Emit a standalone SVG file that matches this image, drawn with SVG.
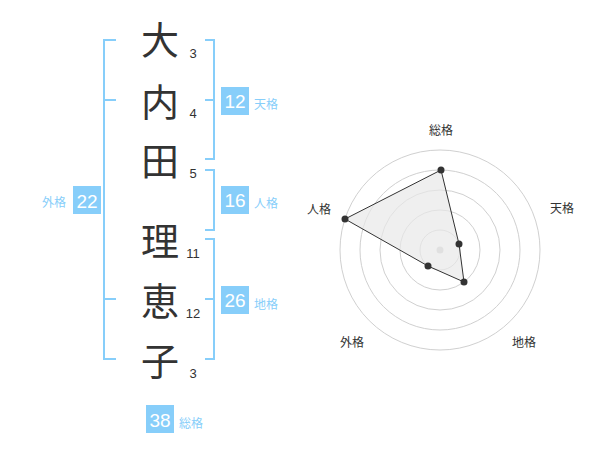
<svg xmlns="http://www.w3.org/2000/svg" width="600" height="470" viewBox="0 0 600 470">
<style>
.kanji{font-family:"Noto Sans CJK JP","Noto Sans CJK SC",sans-serif;font-size:38px;fill:#333;text-anchor:middle}
.stroke{font-family:"Liberation Sans",Arial,sans-serif;font-size:13px;fill:#333;text-anchor:middle}
.box{fill:#87cefa}
.boxnum{font-family:"Liberation Sans",Arial,sans-serif;font-size:19px;fill:#fff;text-anchor:middle}
.lbl{font-family:"Noto Sans CJK JP","Noto Sans CJK SC",sans-serif;font-size:12px;fill:#87cefa}
.br{fill:none;stroke:#87cefa;stroke-width:2}
.grid{fill:none;stroke:#d0d0d0;stroke-width:1}
.axlbl{font-family:"Noto Sans CJK JP","Noto Sans CJK SC",sans-serif;font-size:12px;fill:#333;text-anchor:middle}
.pt{fill:#333}
</style>
<rect width="600" height="470" fill="#fff"/>
<g id="connectors">
<path class="br" d="M116,40 H104 V359 H116 M104,100 H116 M104,299 H116"/>
<path class="br" d="M205,40 H214 V159 H205 M205,100 H214"/>
<path class="br" d="M205,170 H214 V230 H205"/>
<path class="br" d="M205,239 H214 V359 H205 M205,299 H214"/>
</g>
<g id="char-1"><text class="kanji" x="160" y="54">大</text><text class="stroke" x="193" y="58">3</text></g>
<g id="char-2"><text class="kanji" x="160" y="116">内</text><text class="stroke" x="193" y="118">4</text></g>
<g id="char-3"><text class="kanji" x="160" y="175">田</text><text class="stroke" x="193" y="178">5</text></g>
<g id="char-4"><text class="kanji" x="160" y="255">理</text><text class="stroke" x="193" y="258">11</text></g>
<g id="char-5"><text class="kanji" x="160" y="315">恵</text><text class="stroke" x="193" y="318">12</text></g>
<g id="char-6"><text class="kanji" x="160" y="375">子</text><text class="stroke" x="193" y="378">3</text></g>
<g id="tenkaku"><rect class="box" x="221" y="87" width="28" height="28"/><text class="boxnum" x="235" y="108">12</text><text class="lbl" x="254" y="109">天格</text></g>
<g id="jinkaku"><rect class="box" x="221" y="186" width="28" height="28"/><text class="boxnum" x="235" y="207">16</text><text class="lbl" x="254" y="208">人格</text></g>
<g id="chikaku"><rect class="box" x="221" y="286" width="28" height="28"/><text class="boxnum" x="235" y="307">26</text><text class="lbl" x="254" y="309">地格</text></g>
<g id="gaikaku"><rect class="box" x="73" y="186" width="28" height="28"/><text class="boxnum" x="87" y="208">22</text><text class="lbl" x="66" y="207" text-anchor="end">外格</text></g>
<g id="soukaku"><rect class="box" x="146" y="405" width="28" height="28"/><text class="boxnum" x="160" y="427">38</text><text class="lbl" x="179" y="428">総格</text></g>
<g id="radar">
<circle class="grid" cx="440" cy="250" r="20"/>
<circle class="grid" cx="440" cy="250" r="40"/>
<circle class="grid" cx="440" cy="250" r="60"/>
<circle class="grid" cx="440" cy="250" r="80"/>
<circle class="grid" cx="440" cy="250" r="100"/>
<circle cx="440" cy="250" r="3.5" fill="#cccccc"/>
<polygon points="441,170 459,244 464,282 428,266 345,219" fill="#e8e8e8" fill-opacity="0.7" stroke="#333" stroke-width="1"/>
<circle class="pt" cx="441" cy="170" r="3.5"/>
<circle class="pt" cx="459" cy="244" r="3.5"/>
<circle class="pt" cx="464" cy="282" r="3.5"/>
<circle class="pt" cx="428" cy="266" r="3.5"/>
<circle class="pt" cx="345" cy="219" r="3.5"/>
<text class="axlbl" x="441" y="135">総格</text>
<text class="axlbl" x="562" y="213">天格</text>
<text class="axlbl" x="319" y="214">人格</text>
<text class="axlbl" x="352" y="347">外格</text>
<text class="axlbl" x="524" y="347">地格</text>
</g>
</svg>
